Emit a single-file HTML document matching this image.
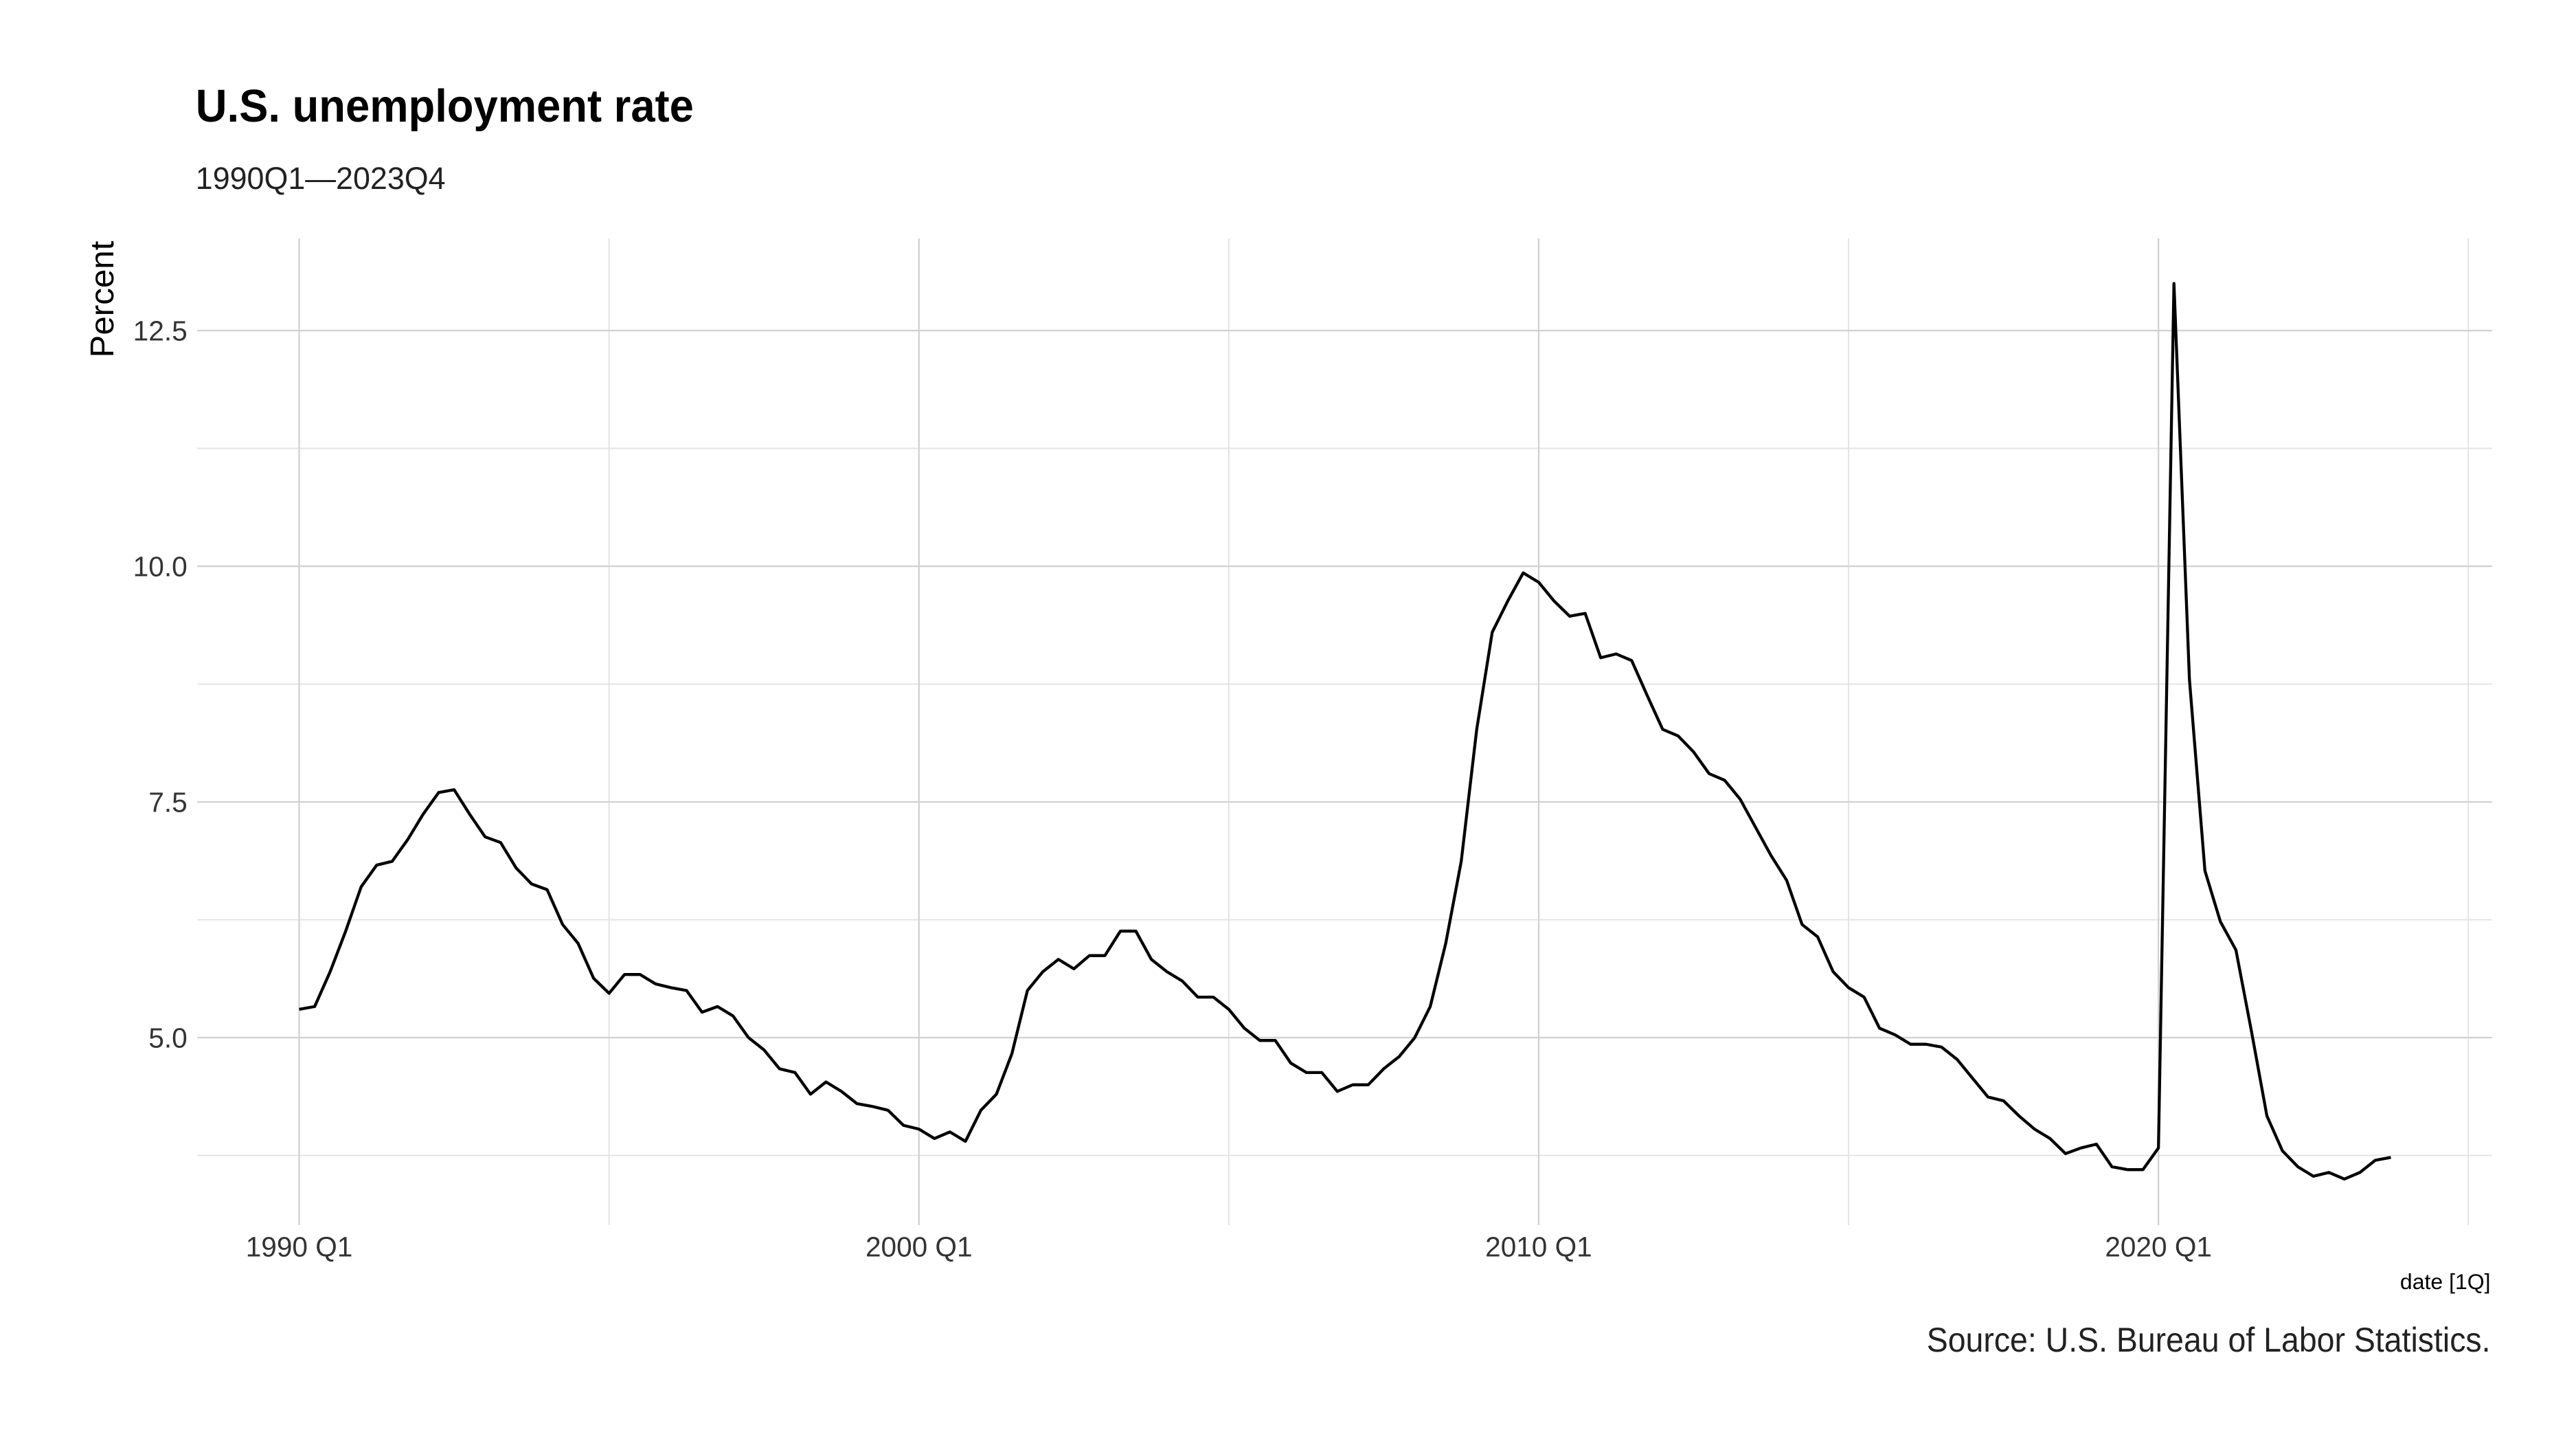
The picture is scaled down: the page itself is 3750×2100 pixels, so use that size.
<!DOCTYPE html>
<html><head><meta charset="utf-8"><style>
html,body{margin:0;padding:0;background:#fff;}
svg{display:block;}
text{font-family:"Liberation Sans Narrow","Liberation Sans",sans-serif;}
</style></head><body>
<svg id="chart" width="3750" height="2100" viewBox="0 0 1567 877.5" preserveAspectRatio="none" xmlns="http://www.w3.org/2000/svg">
<rect x="0" y="0" width="1567" height="877.5" fill="#fff"/>
<g id="grid"></g>
<g id="axes"></g>
<path id="line" fill="none" stroke="#000" stroke-width="1.8" stroke-linejoin="round"/>
<text x="119" y="74" font-size="28" font-weight="bold" fill="#000" textLength="303" lengthAdjust="spacingAndGlyphs">U.S. unemployment rate</text>
<text x="119" y="115" font-size="19" fill="#222" textLength="152" lengthAdjust="spacingAndGlyphs">1990Q1—2023Q4</text>
<text transform="translate(69,182) rotate(-90)" text-anchor="middle" font-size="20" fill="#000" textLength="71" lengthAdjust="spacingAndGlyphs">Percent</text>
<text x="1515" y="784" text-anchor="end" font-size="13" fill="#000" textLength="55" lengthAdjust="spacingAndGlyphs">date [1Q]</text>
<text x="1515" y="822" text-anchor="end" font-size="21" fill="#222" textLength="343" lengthAdjust="spacingAndGlyphs">Source: U.S. Bureau of Labor Statistics.</text>
</svg>
<script>
const startYear = 1990;
const values = [
5.3,5.33,5.7,6.13, 6.6,6.83,6.87,7.1, 7.37,7.6,7.63,7.37, 7.13,7.07,6.8,6.63,
6.57,6.2,6.0,5.63, 5.47,5.67,5.67,5.57, 5.53,5.5,5.27,5.33, 5.23,5.0,4.87,4.67,
4.63,4.4,4.53,4.43, 4.3,4.27,4.23,4.07, 4.03,3.93,4.0,3.9, 4.23,4.4,4.83,5.5,
5.7,5.83,5.73,5.87, 5.87,6.13,6.13,5.83, 5.7,5.6,5.43,5.43, 5.3,5.1,4.97,4.97,
4.73,4.63,4.63,4.43, 4.5,4.5,4.67,4.8, 5.0,5.33,6.0,6.87, 8.27,9.3,9.63,9.93,
9.83,9.63,9.47,9.5, 9.03,9.07,9.0,8.63, 8.27,8.2,8.03,7.8, 7.73,7.53,7.23,6.93,
6.67,6.2,6.07,5.7, 5.53,5.43,5.1,5.03, 4.93,4.93,4.9,4.77, 4.57,4.37,4.33,4.17,
4.03,3.93,3.77,3.83, 3.87,3.63,3.6,3.6, 3.83,13.0,8.8,6.77, 6.23,5.93,5.07,4.17,
3.8,3.63,3.53,3.57, 3.5,3.57,3.7,3.73];
const yTicks = [5.0, 7.5, 10.0, 12.5];
const yMinor = [3.75, 6.25, 8.75, 11.25];
const xTicks = [1990, 2000, 2010, 2020];
const xMinor = [1995, 2005, 2015, 2025];
const xTickLabels = ["1990 Q1","2000 Q1","2010 Q1","2020 Q1"];

const ns = "http://www.w3.org/2000/svg";
const L = 120, R = 1516, T = 145, B = 745;
function xs(yr){ return 182 + (yr - 1990) * 37.7; }
function ys(v){ return 631 - (v - 5) * 57.33; }
const grid = document.getElementById('grid');
const axes = document.getElementById('axes');
function line(x1,y1,x2,y2,c,w,name){
  const l = document.createElementNS(ns,'line');
  l.setAttribute('x1',x1);l.setAttribute('y1',y1);l.setAttribute('x2',x2);l.setAttribute('y2',y2);
  l.setAttribute('stroke',c);l.setAttribute('stroke-width',w);
  
  
  grid.appendChild(l);
}
yMinor.forEach(v => line(L, ys(v), R, ys(v), '#e3e3e3', 0.8, 'y-minor-gridline'));
xMinor.forEach(v => line(xs(v), T, xs(v), B, '#e3e3e3', 0.8, 'x-minor-gridline'));
yTicks.forEach(v => line(L, ys(v), R, ys(v), '#d2d2d2', 1, 'y-gridline'));
xTicks.forEach(v => line(xs(v), T, xs(v), B, '#d2d2d2', 1, 'x-gridline'));
yTicks.forEach(v => {
  const t = document.createElementNS(ns,'text');
  t.setAttribute('x', 114); t.setAttribute('y', ys(v) + 6);
  t.setAttribute('text-anchor','end'); t.setAttribute('font-size','17'); t.setAttribute('fill','#333');
  t.textContent = v.toFixed(1);
  
  
  axes.appendChild(t);
});
xTicks.forEach((v,i) => {
  const t = document.createElementNS(ns,'text');
  t.setAttribute('x', xs(v)); t.setAttribute('y', 764);
  t.setAttribute('text-anchor','middle'); t.setAttribute('font-size','17'); t.setAttribute('fill','#333');
  t.setAttribute('textLength','65'); t.setAttribute('lengthAdjust','spacingAndGlyphs');
  t.textContent = xTickLabels[i];
  
  
  axes.appendChild(t);
});
let d = '';
values.forEach((v,i) => { d += (i ? 'L' : 'M') + xs(startYear + i/4).toFixed(2) + ',' + ys(v).toFixed(2); });
document.getElementById('line').setAttribute('d', d);
</script>
</body></html>
